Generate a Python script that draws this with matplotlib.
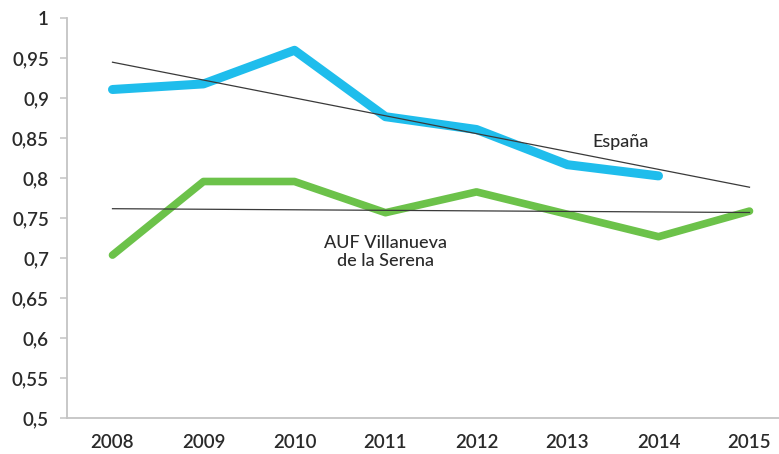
import numpy as np
import matplotlib
matplotlib.use("Agg")
import matplotlib.pyplot as plt
from matplotlib.ticker import FuncFormatter

# --- datos ---
years = ["2008", "2009", "2010", "2011", "2012", "2013", "2014", "2015"]
espana = [0.911, 0.918, 0.960, 0.877, 0.861, 0.817, 0.803]
auf_villanueva = [0.704, 0.796, 0.796, 0.757, 0.783, 0.755, 0.727, 0.759]
y_ticks = [0.5, 0.55, 0.6, 0.65, 0.7, 0.75, 0.8, 0.85, 0.9, 0.95, 1.0]

BLUE = "#1fbdec"
GREEN = "#6cc24a"
TEXT = "#2a2a2a"

plt.rcParams["font.family"] = ["Lato", "DejaVu Sans"]

fig = plt.figure(figsize=(7.79, 4.54), dpi=100)
ax = fig.add_axes([67 / 779, 1 - 418.3 / 454, 1 - 67 / 779, 400 / 454])

x_all = np.arange(len(years))
x_es = np.arange(len(espana))

ax.plot(x_es, espana, color=BLUE, linewidth=6.5, solid_capstyle="round",
        solid_joinstyle="round", zorder=2)
ax.plot(x_all, auf_villanueva, color=GREEN, linewidth=5.5, solid_capstyle="round",
        solid_joinstyle="round", zorder=2)

# lineas de tendencia (regresion lineal, la de Espana se prolonga un periodo)
p_es = np.polyfit(x_es, espana, 1)
p_auf = np.polyfit(x_all, auf_villanueva, 1)
ax.plot(x_all[[0, -1]], np.polyval(p_es, x_all[[0, -1]]), color="#3a3a3a",
        linewidth=0.9, zorder=3)
ax.plot(x_all[[0, -1]], np.polyval(p_auf, x_all[[0, -1]]), color="#3a3a3a",
        linewidth=0.9, zorder=3)

ax.text(5.58, 0.845, "España", color=TEXT, fontsize=13, ha="center", va="center",
        fontweight="medium")
ax.text(3.0, 0.708, "AUF Villanueva\nde la Serena", color=TEXT, fontsize=13,
        ha="center", va="center", linespacing=1.15, fontweight="medium")

ax.set_xlim(-0.5, (779 - 112.5) / 91)
ax.set_ylim(0.5, 1.0)
ax.set_xticks(x_all)
ax.set_xticklabels(years)
ax.set_yticks(y_ticks)
ax.yaxis.set_major_formatter(FuncFormatter(lambda v, _: f"{v:g}".replace(".", ",")))

for s in ["top", "right"]:
    ax.spines[s].set_visible(False)
for s in ["left", "bottom"]:
    ax.spines[s].set_color("#c4c4c4")
    ax.spines[s].set_linewidth(1.3)

ax.tick_params(axis="y", length=5, width=1.1, color="#c4c4c4", pad=8,
               labelsize=13.5, labelcolor=TEXT)
ax.tick_params(axis="x", length=0, pad=11, labelsize=13.5, labelcolor=TEXT)
for lbl in ax.get_xticklabels() + ax.get_yticklabels():
    lbl.set_fontweight("semibold")

fig.savefig("out.png", dpi=100)
